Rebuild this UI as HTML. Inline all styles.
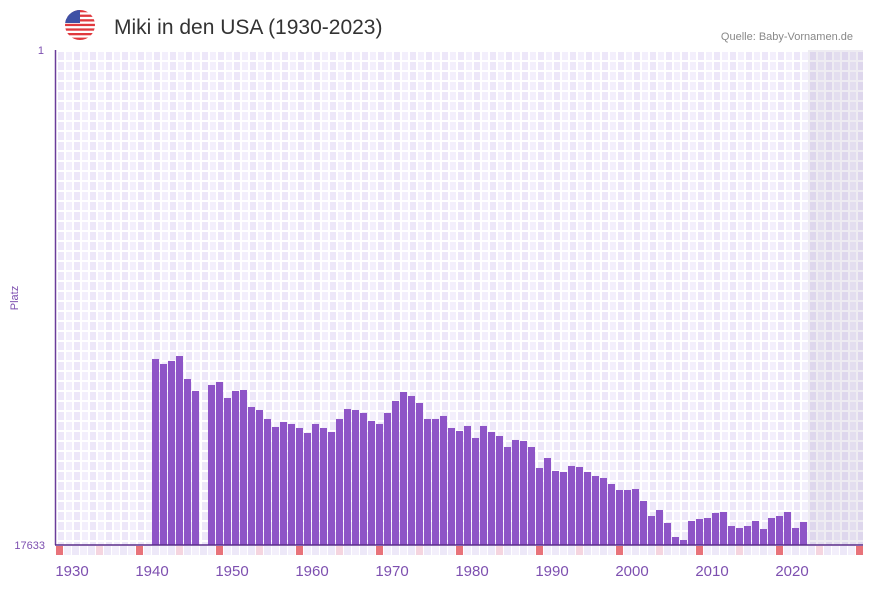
<!DOCTYPE html>
<html><head><meta charset="utf-8"><style>
body{margin:0;background:#fff;width:873px;height:587px;overflow:hidden;font-family:"Liberation Sans",sans-serif}
</style></head><body>
<svg id="chart" width="873" height="587" xmlns="http://www.w3.org/2000/svg">
<defs>
<pattern id="grid" x="56" y="50" width="16" height="10" patternUnits="userSpaceOnUse">
<rect width="8" height="10" fill="#ede7f9"/>
<rect x="8" width="8" height="10" fill="#f3effc"/>
<rect x="0" y="0" width="2" height="10" fill="#fff"/>
<rect x="8" y="0" width="2" height="10" fill="#fff"/>
<rect x="0" y="0" width="16" height="2" fill="#fff"/>
</pattern>
<clipPath id="fc"><circle cx="80" cy="25" r="15"/></clipPath>
</defs>
<g clip-path="url(#fc)">
<rect x="65" y="10" width="30" height="30" fill="#fff"/>
<rect x="65" y="10" width="30" height="2.3" fill="#e0393e"/>
<rect x="65" y="14.6" width="30" height="2.3" fill="#e0393e"/>
<rect x="65" y="19.2" width="30" height="2.3" fill="#e0393e"/>
<rect x="65" y="23.8" width="30" height="2.3" fill="#e0393e"/>
<rect x="65" y="28.4" width="30" height="2.3" fill="#e0393e"/>
<rect x="65" y="33" width="30" height="2.3" fill="#e0393e"/>
<rect x="65" y="37.6" width="30" height="2.4" fill="#e0393e"/>
<rect x="65" y="10" width="15" height="13" fill="#3f51a5"/>
</g>
<text x="114" y="34" font-size="21" fill="#333">Miki in den USA (1930-2023)</text>
<text x="853" y="40" font-size="11" fill="#888" text-anchor="end">Quelle: Baby-Vornamen.de</text>
<rect x="56" y="50" width="807" height="495" fill="url(#grid)"/>
<rect x="808" y="50" width="55" height="495" fill="#8a7fa8" opacity="0.15"/>
<g id="bars"></g>
<g id="markers"></g>
<line x1="55.5" y1="50" x2="55.5" y2="545" stroke="#6a3d9a" stroke-width="1.5"/>
<line x1="55" y1="545" x2="863" y2="545" stroke="#5a2d8a" stroke-width="1.5"/>
<text x="44" y="54" font-size="11" fill="#7d4fb0" text-anchor="end">1</text>
<text x="45" y="549" font-size="11" fill="#7d4fb0" text-anchor="end">17633</text>
<text x="18" y="298" font-size="11" fill="#7d4fb0" text-anchor="middle" transform="rotate(-90 18 298)">Platz</text>
<g id="xticks"></g>
</svg>
<script>
const startYear = 1940;
const ranks = [11007,11185,11078,10901,11720,12147,null,11933,11826,12396,12147,12112,12717,12824,13144,13429,13251,13322,13465,13643,13322,13465,13607,13144,12788,12824,12930,13215,13322,12930,12503,12183,12325,12575,13144,13144,13037,13465,13572,13393,13821,13393,13607,13750,14142,13892,13928,14142,14890,14534,14997,15032,14818,14854,15032,15175,15246,15460,15674,15674,15638,16065,16600,16386,16849,17348,17455,16778,16707,16671,16493,16457,16956,17027,16956,16778,17063,16671,16600,16457,17027,16813];
const tickYears = [1930,1940,1950,1960,1970,1980,1990,2000,2010,2020];
const minRank = 1, maxRank = 17633, firstSlotYear = 1928, lastSlotYear = 2028;
const NS = "http://www.w3.org/2000/svg";
function xs(year){return 56 + (year - firstSlotYear) * 8;}
function ys(rank){return 50 + (rank - minRank) / (maxRank - minRank) * 495;}
const bars = document.getElementById('bars');
ranks.forEach((r,i)=>{
  if(r===null) return;
  const y = ys(r);
  const el = document.createElementNS(NS,'rect');
  el.setAttribute('x', xs(startYear+i));
  el.setAttribute('y', y);
  el.setAttribute('width', 7);
  el.setAttribute('height', 545 - y);
  el.setAttribute('fill', '#8e55c7');
  
  
  bars.appendChild(el);
});
const mk = document.getElementById('markers');
for(let yr=firstSlotYear; yr<=lastSlotYear; yr++){
  const d = (yr - firstSlotYear) % 10;
  const el = document.createElementNS(NS,'rect');
  el.setAttribute('x', xs(yr));
  el.setAttribute('y', 546);
  el.setAttribute('width', 7);
  el.setAttribute('height', 9);
  el.setAttribute('fill', d===0 ? '#e8737a' : d===5 ? '#f5d5df' : (yr%2 ? '#f3effb' : '#ede8f8'));
  
  
  mk.appendChild(el);
}
const xt = document.getElementById('xticks');
tickYears.forEach(t=>{
  const el = document.createElementNS(NS,'text');
  el.setAttribute('x', xs(t));
  el.setAttribute('y', 576);
  el.setAttribute('font-size', '15');
  el.setAttribute('fill', '#7d4fb0');
  el.setAttribute('text-anchor', 'middle');
  el.textContent = t;
  
  
  xt.appendChild(el);
});
</script>
</body></html>
